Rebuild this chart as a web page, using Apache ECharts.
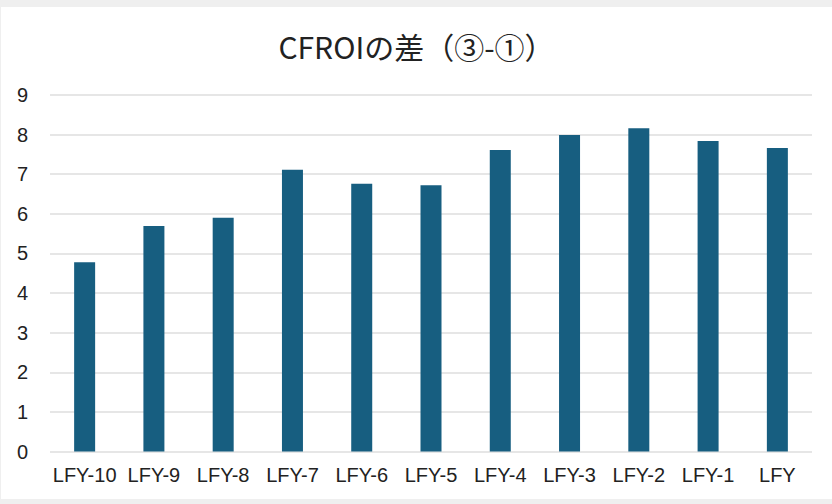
<!DOCTYPE html>
<html>
<head>
<meta charset="utf-8">
<script src="https://cdn.jsdelivr.net/npm/echarts@6/dist/echarts.min.js"></script>
<style>
  html, body { margin: 0; padding: 0; background: #efefef; }
  #chart { position: absolute; left: 1px; top: 7px; width: 831px; height: 492px; background: #fff; }
</style>
</head>
<body>
<div id="chart"></div>
<script>
// 年度カテゴリ
const categories = ['LFY-10', 'LFY-9', 'LFY-8', 'LFY-7', 'LFY-6', 'LFY-5', 'LFY-4', 'LFY-3', 'LFY-2', 'LFY-1', 'LFY']
// CFROIの差 (③-①)
const diffValues = [4.78, 5.69, 5.90, 7.11, 6.76, 6.72, 7.61, 7.99, 8.16, 7.84, 7.66]

const chart = echarts.init(document.getElementById('chart'), undefined, { renderer: 'svg' })

chart.setOption({
  animation: false,
  title: {
    text: 'CFROIの差（③-①）',
    left: 'center',
    top: 19,
    textStyle: {
      fontFamily: '"Noto Sans CJK JP", sans-serif',
      fontSize: 30,
      fontWeight: 'normal',
      color: '#222'
    }
  },
  grid: {
    left: 49,
    right: 20,
    top: 88,
    bottom: 47.5
  },
  xAxis: {
    type: 'category',
    data: categories,
    axisTick: { show: false },
    axisLine: { show: false },
    axisLabel: {
      interval: 0,
      margin: 13,
      fontSize: 20,
      color: '#222',
      fontFamily: '"Liberation Sans", sans-serif'
    }
  },
  yAxis: {
    type: 'value',
    min: 0,
    max: 9,
    interval: 1,
    axisLabel: {
      margin: 22,
      fontSize: 20,
      color: '#222',
      fontFamily: '"Liberation Sans", sans-serif'
    },
    splitLine: { lineStyle: { color: '#e6e6e6', width: 2 } }
  },
  series: [
    {
      name: 'CFROIの差',
      type: 'bar',
      data: diffValues,
      barWidth: 21,
      itemStyle: { color: '#175e80' }
    }
  ]
})
</script>
</body>
</html>
